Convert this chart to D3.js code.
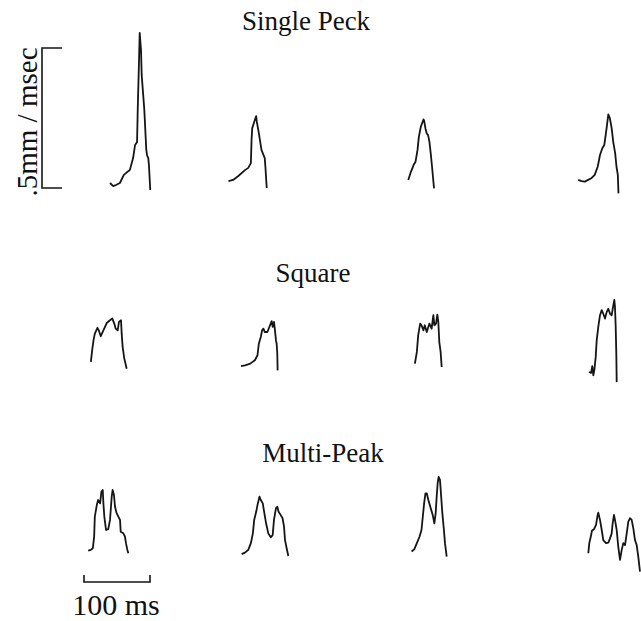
<!DOCTYPE html>
<html><head><meta charset="utf-8">
<script src="https://cdn.jsdelivr.net/npm/d3@7"></script>
<style>body{margin:0;background:#fff}svg{display:block}text{font-family:"Liberation Serif","Times New Roman",serif;fill:#111}</style>
</head><body>
<script>
// Trace data: [time ms (relative to column centre), velocity mm/ms]
const rowNames = ["Single Peck", "Square", "Multi-Peak"];
const singlePeck = [
  [[0,.025],[5,.014],[9,.018],[15,.025],[21,.054],[26,.064],[30,.071],[35,.114],[38,.161],[41,.171],[42,.286],[44,.464],[45,.561],[47,.5],[48,.411],[52,.286],[55,.143],[56,.125],[58,.114],[59,.089],[61,0]],
  [[-68,.032],[-61,.036],[-53,.05],[-43,.071],[-38,.079],[-34,.096],[-33,.179],[-32,.221],[-28,.25],[-26,.264],[-25,.243],[-22,.204],[-18,.143],[-13,.114],[-12,.082],[-10,.007]],
  [[-43,.036],[-39,.065],[-35,.089],[-32,.101],[-29,.143],[-27,.19],[-24,.226],[-20,.252],[-19,.248],[-17,.22],[-15,.202],[-13,.196],[-11,.173],[-9,.131],[-7,.083],[-4,.006]],
  [[-33,.036],[-28,.032],[-23,.03],[-18,.036],[-13,.042],[-8,.054],[-3.5,.083],[0,.125],[3.5,.149],[6.5,.161],[8.6,.196],[10.6,.232],[12.6,.27],[15,.256],[17.7,.22],[20,.173],[23,.131],[25,.083],[27,.054],[28,-.012]]
];
const square = [
  [[-29,.043],[-27,.085],[-25,.12],[-23,.144],[-19,.165],[-17,.156],[-14,.135],[-10,.156],[-5,.182],[0,.192],[3.5,.198],[6.5,.18],[8.6,.162],[11.7,.156],[13.6,.186],[16.7,.192],[17.7,.144],[19.2,.096],[21.7,.055],[25.3,.019]],
  [[-49,.028],[-43,.031],[-35,.037],[-28,.049],[-24,.067],[-22,.108],[-19,.132],[-17,.156],[-15,.162],[-13,.15],[-9,.15],[-5,.174],[-2.5,.189],[-1,.168],[1,.186],[2.5,.156],[4,.12],[5,.108],[6,.073],[6.5,.013]],
  [[-33,.037],[-30,.079],[-28,.138],[-25,.18],[-23,.174],[-20,.156],[-18,.174],[-15,.15],[-11,.18],[-7.6,.162],[-5,.21],[-3.5,.174],[-1,.18],[1,.212],[2.5,.186],[4,.114],[6,.079],[7.6,.025]],
  [[-16.7,.007],[-13.6,.004],[-11.7,.028],[-10.1,-.005],[-8.6,.013],[-6.5,.061],[-5,.12],[-2.6,.168],[0,.21],[2.6,.228],[5,.215],[7.6,.198],[10.1,.221],[12.6,.233],[15.2,.215],[17.7,.21],[20.2,.245],[21.7,.265],[22.7,.239],[23.8,.168],[24.7,.073],[25.3,-.029]]
];
const multiPeak = [
  [[-33,.026],[-29,.029],[-26,.035],[-24,.076],[-23,.148],[-20,.189],[-18,.207],[-15,.195],[-13,.237],[-11,.243],[-10,.195],[-8.6,.148],[-6,.1],[-2.6,.103],[0,.136],[2.6,.219],[4,.243],[6,.225],[7.6,.183],[10,.16],[12.6,.148],[15.2,.136],[16.2,.094],[20.2,.088],[22.7,.076],[24.2,.053],[26.3,.029],[27.8,.017]],
  [[-48,.014],[-43,.019],[-38,.029],[-34,.053],[-31,.088],[-29,.136],[-26,.165],[-24,.189],[-21,.219],[-19,.207],[-16,.195],[-13.6,.16],[-11,.124],[-7.6,.088],[-4,.074],[-1,.082],[1,.136],[4,.178],[6,.183],[8,.165],[11,.154],[14,.142],[16.2,.112],[17.7,.064],[20.2,.035],[22.7,.007]],
  [[-38,.023],[-34,.031],[-30,.053],[-26,.076],[-23,.1],[-21,.148],[-19,.195],[-17,.231],[-15,.231],[-12.6,.207],[-9,.178],[-6,.154],[-3.5,.124],[-1.5,.16],[0,.219],[1.5,.267],[3,.29],[5,.279],[6.5,.231],[8.6,.16],[11,.1],[12.6,.053],[15.2,.005]],
  [[-17.7,.017],[-16.2,.053],[-14,.076],[-12.1,.098],[-9.1,.103],[-6,.118],[-4,.148],[-2.6,.162],[0,.136],[2.6,.1],[5,.064],[9.1,.053],[12.6,.055],[15.2,.07],[17.7,.088],[19.2,.124],[21.2,.154],[22.7,.136],[25.3,.1],[27.7,.04],[30.3,-.007],[32.9,.029],[35.3,.053],[37.9,.046],[40.5,.088],[42.9,.13],[45.5,.142],[48,.136],[50.5,.106],[53,.064],[55.6,.046],[58,.005],[60.6,-.049]]
];
const rows = [singlePeck, square, multiPeak];
const velocityBar = [0, 0.5];   // mm/ms
const timeBar = [0, 100];       // ms
const velocityLabel = ".5mm / msec";
const timeLabel = "100 ms";

const W = 641, H = 621;
const svg = d3.select("body").append("svg").attr("width", W).attr("height", H);

const colX = d3.scalePoint().domain([0,1,2,3]).range([110, 600]);
const rowY = d3.scalePoint().domain(rowNames).range([190, 558]);
const tx = d3.scaleLinear().domain([0, 100]).range([0, 66]);
const vy = d3.scaleLinear().domain([0, 0.5]).range([0, -140]);

const titleOffset = {"Single Peck": -160, "Square": -92, "Multi-Peak": -96};
const titleX = {"Single Peck": 306, "Square": 313, "Multi-Peak": 323};

rows.forEach((traces, ri) => {
  const name = rowNames[ri];
  const base = rowY(name);
  svg.append("text").attr("x", titleX[name]).attr("y", base + titleOffset[name])
    .attr("text-anchor", "middle").attr("font-size", 27).text(name);
  traces.forEach((tr, ci) => {
    const line = d3.line().x(d => colX(ci) + tx(d[0])).y(d => base + vy(d[1]));
    svg.append("path").attr("d", line(tr)).attr("fill", "none")
      .attr("stroke", "#151515").attr("stroke-width", 1.8).attr("stroke-linejoin", "round");
  });
});

// vertical scale bar
const b0 = rowY(rowNames[0]) - 2;
const vbx = 42;
svg.append("path").attr("fill", "none").attr("stroke", "#151515").attr("stroke-width", 1.6)
  .attr("d", `M${vbx+20},${b0+vy(velocityBar[1])}H${vbx}V${b0+vy(velocityBar[0])}H${vbx+20}`);
svg.append("text").attr("transform", `translate(37,122) rotate(-90)`)
  .attr("text-anchor", "middle").attr("font-size", 29).text(velocityLabel);

// horizontal scale bar
const hx0 = 84, hby = 582;
svg.append("path").attr("fill", "none").attr("stroke", "#151515").attr("stroke-width", 1.6)
  .attr("d", `M${hx0+tx(timeBar[0])},${hby-7}V${hby}H${hx0+tx(timeBar[1])}V${hby-7}`);
svg.append("text").attr("x", 116).attr("y", 615).attr("text-anchor", "middle")
  .attr("font-size", 30).text(timeLabel);
</script>
</body></html>
